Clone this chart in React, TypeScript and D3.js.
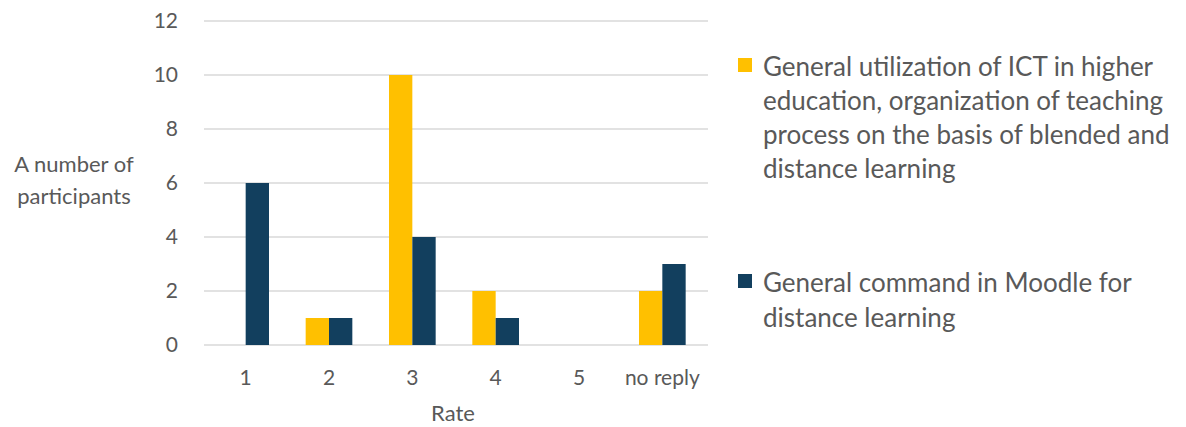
import React from "react";
import * as d3 from "d3";

const categories = ["1", "2", "3", "4", "5", "no reply"];
const ictValues = [0, 1, 10, 2, 0, 2];
const moodleValues = [6, 1, 4, 1, 0, 3];
const yTicks = [0, 2, 4, 6, 8, 10, 12];
const seriesNames = ["ict", "moodle"];
const legendIct = [
  "General utilization of ICT in higher",
  "education, organization of teaching",
  "process on the basis of blended and",
  "distance learning",
];
const legendMoodle = ["General command in Moodle for", "distance learning"];

const W = 1186;
const H = 427;
const YELLOW = "#FFC000";
const NAVY = "#123F5E";
const TEXT = "#595959";
const FONT = "Lato, 'Open Sans', sans-serif";

export default function App() {
  const x0 = d3
    .scaleBand<string>()
    .domain(categories)
    .range([204, 704])
    .paddingInner(0.44)
    .paddingOuter(0.22);
  const x1 = d3
    .scaleBand<string>()
    .domain(seriesNames)
    .range([0, x0.bandwidth()]);
  const y = d3.scaleLinear().domain([0, 12]).range([345, 21]);

  const series = [
    { key: "ict", values: ictValues, color: YELLOW },
    { key: "moodle", values: moodleValues, color: NAVY },
  ];

  return (
    <svg
      width={W}
      height={H}
      style={{ position: "absolute", left: 0, top: 0, background: "#fff" }}
      fontFamily={FONT}
    >
      {yTicks.map((t) => (
        <g key={t}>
          <line x1={204} x2={708} y1={y(t)} y2={y(t)} stroke="#d9d9d9" strokeWidth={1.5} />
          <text x={178} y={y(t)} dy="0.35em" textAnchor="end" fontSize={21} fill={TEXT}>
            {t}
          </text>
        </g>
      ))}
      {series.map((s) =>
        categories.map((c, i) =>
          s.values[i] > 0 ? (
            <rect
              key={s.key + c}
              x={(x0(c) as number) + (x1(s.key) as number)}
              y={y(s.values[i])}
              width={x1.bandwidth()}
              height={y(0) - y(s.values[i])}
              fill={s.color}
            />
          ) : null
        )
      )}
      {categories.map((c) => (
        <text
          key={c}
          x={(x0(c) as number) + x0.bandwidth() / 2}
          y={385}
          textAnchor="middle"
          fontSize={21}
          fill={TEXT}
        >
          {c}
        </text>
      ))}
      <text x={453} y={421} textAnchor="middle" fontSize={22} fill={TEXT}>
        Rate
      </text>
      <text x={74} y={172} textAnchor="middle" fontSize={22} fill={TEXT}>
        A number of
      </text>
      <text x={74} y={204} textAnchor="middle" fontSize={22} fill={TEXT}>
        participants
      </text>
      <rect x={738} y={58} width={14} height={14} fill={YELLOW} />
      {legendIct.map((l, i) => (
        <text key={l} x={763} y={76 + i * 34} fontSize={26} fill={TEXT}>
          {l}
        </text>
      ))}
      <rect x={738} y={274} width={14} height={14} fill={NAVY} />
      {legendMoodle.map((l, i) => (
        <text key={l} x={763} y={292 + i * 35} fontSize={26} fill={TEXT}>
          {l}
        </text>
      ))}
    </svg>
  );
}
